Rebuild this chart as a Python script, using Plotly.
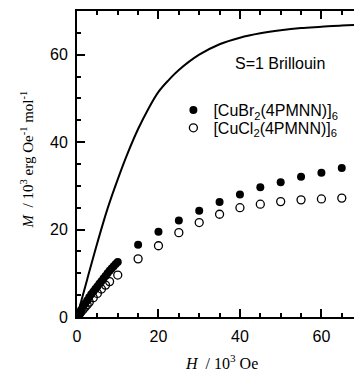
import plotly.graph_objects as go

# Brillouin curve (S=1)
curve_H = [0, 1, 2.5, 5, 7.5, 10, 12.5, 15, 17.5, 20, 22.5, 25, 30, 35, 40, 45, 50, 55, 60, 65, 68]
curve_M = [0, 3.5, 8.6, 17.0, 24.8, 31.5, 37.6, 43.0, 47.6, 51.5, 54.2, 56.5, 60.0, 62.4, 63.9, 64.9, 65.6, 66.1, 66.4, 66.7, 66.8]

# [CuBr2(4PMNN)]6 (filled)
br_H = [0, 0.5, 1, 1.5, 2, 2.5, 3, 3.5, 4, 4.5, 5, 5.5, 6, 6.5, 7, 7.5, 8, 8.5, 9, 9.5, 10,
        15, 20, 25, 30, 35, 40, 45, 50, 55, 60, 65]
br_M = [0, 0.8, 1.6, 2.4, 3.1, 3.8, 4.5, 5.2, 5.8, 6.4, 7.0, 7.6, 8.2, 8.8, 9.4, 10.0, 10.6, 11.1, 11.6, 12.1, 12.6,
        16.5, 19.5, 22.1, 24.3, 26.3, 28.0, 29.7, 30.8, 32.1, 33.0, 34.1]

# [CuCl2(4PMNN)]6 (open)
cl_H = [0, 0.25, 0.5, 0.75, 1, 1.5, 2, 2.5, 3, 4, 5, 6, 7, 8, 10,
        15, 20, 25, 30, 35, 40, 45, 50, 55, 60, 65]
cl_M = [0, 0.3, 0.6, 0.9, 1.2, 1.7, 2.3, 2.8, 3.4, 4.4, 5.4, 6.4, 7.3, 8.1, 9.6,
        13.3, 16.3, 19.3, 21.6, 23.5, 25.0, 25.8, 26.4, 26.8, 27.0, 27.2]

x_ticks = [0, 20, 40, 60]
y_ticks = [0, 20, 40, 60]

fig = go.Figure()
fig.add_trace(go.Scatter(x=curve_H, y=curve_M, mode="lines", line=dict(color="black", width=2, shape="spline"),
                         showlegend=False, hoverinfo="skip"))
fig.add_trace(go.Scatter(x=br_H, y=br_M, mode="markers", name="[CuBr<sub>2</sub>(4PMNN)]<sub>6</sub>",
                         marker=dict(symbol="circle", size=8, color="black", line=dict(width=0)),
                         legend="legend"))
fig.add_trace(go.Scatter(x=cl_H, y=cl_M, mode="markers", name="[CuCl<sub>2</sub>(4PMNN)]<sub>6</sub>",
                         marker=dict(symbol="circle-open", size=8, color="black", line=dict(width=1.3)),
                         legend="legend2"))

axis_common = dict(showgrid=False, zeroline=False, showline=True, linecolor="black", linewidth=2,
                   ticks="inside", ticklen=8, tickwidth=2, tickcolor="black",
                   tickfont=dict(family="Liberation Sans, Arial", size=16, color="black"))

fig.update_xaxes(range=[0, 68], tickvals=x_ticks, mirror="ticks",
                 minor=dict(dtick=5, tick0=0, ticks="inside", ticklen=4, tickwidth=1.5, tickcolor="black"),
                 ticklabelstandoff=4, **axis_common)
fig.update_yaxes(range=[0, 70], tickvals=y_ticks,
                 minor=dict(dtick=5, tick0=0, ticks="inside", ticklen=4, tickwidth=1.5, tickcolor="black"),
                 ticklabelstandoff=4, **axis_common)

fig.add_annotation(text="<i>H</i>  / 10<sup>3</sup> Oe", xref="paper", yref="paper", x=0.52, y=0,
                   yshift=-45, showarrow=False, xanchor="center", yanchor="middle",
                   font=dict(family="Liberation Serif, Times New Roman", size=16, color="black"))
fig.add_annotation(text="<i>M</i>  / 10<sup>3</sup> erg Oe<sup>-1</sup> mol<sup>-1</sup>", xref="paper", yref="paper",
                   x=0, y=0.515, xshift=-50, textangle=-90, showarrow=False, xanchor="center", yanchor="middle",
                   font=dict(family="Liberation Serif, Times New Roman", size=15, color="black"))
fig.add_annotation(text="S=1 Brillouin", xref="paper", yref="paper", x=0.733, y=0.83,
                   showarrow=False, xanchor="center", yanchor="middle",
                   font=dict(family="Liberation Sans, Arial", size=16, color="black"))

legend_style = dict(xanchor="left", yanchor="middle", bgcolor="rgba(0,0,0,0)",
                    font=dict(family="Liberation Sans, Arial", size=16, color="black"), itemwidth=30)

fig.update_layout(width=354, height=371, margin=dict(l=77, r=0, t=11, b=54),
                  plot_bgcolor="white", paper_bgcolor="white",
                  legend=dict(x=0.348, y=0.676, **legend_style),
                  legend2=dict(x=0.348, y=0.618, **legend_style))

fig.write_html("out.html", config={"displayModeBar": False},
               post_script="document.body.style.margin='0';document.body.style.overflow='hidden';")
